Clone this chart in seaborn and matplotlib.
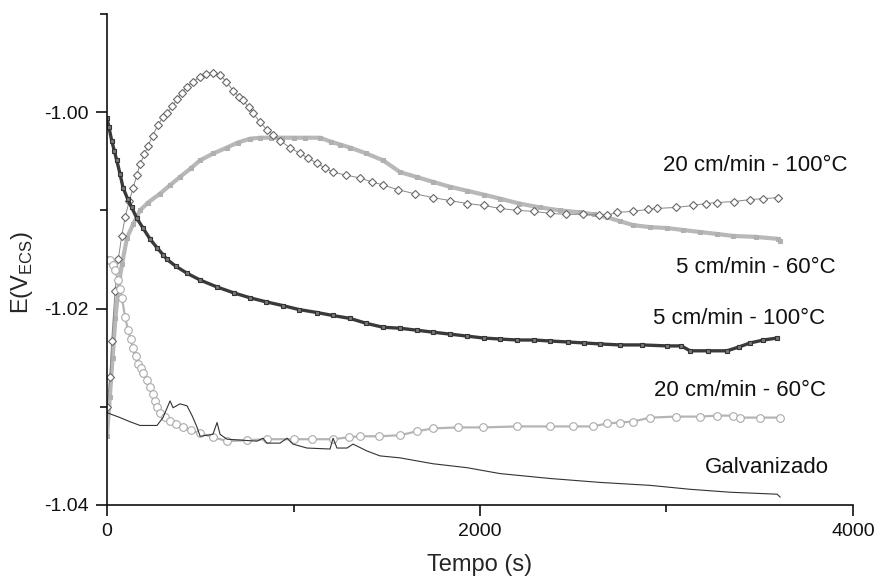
import matplotlib
matplotlib.use('Agg')
import matplotlib.pyplot as plt
import seaborn as sns
from matplotlib.ticker import MultipleLocator, FormatStrFormatter

# 20 cm/min - 100°C
t_20_100 = [0, 15, 25, 43, 60, 79, 97, 120, 140, 160, 177, 200, 220, 245, 273, 300, 321, 350, 375, 402,
            430, 460, 499, 530, 568, 606, 640, 676, 710, 729, 760, 783, 820, 858, 890, 928, 980, 1035,
            1080, 1126, 1170, 1212, 1280, 1357, 1420, 1480, 1560, 1650, 1748, 1840, 1930, 2020, 2107,
            2200, 2290, 2375, 2460, 2550, 2640, 2681, 2735, 2820, 2900, 2949, 3050, 3142, 3210, 3271,
            3360, 3448, 3520, 3598]
e_20_100 = [-1.030, -1.027, -1.0233, -1.0182, -1.0150, -1.0126, -1.0107, -1.009, -1.0077, -1.0064,
            -1.0053, -1.0043, -1.0034, -1.0024, -1.0013, -1.0005, -1.0001, -0.9994, -0.9987, -0.998,
            -0.9974, -0.9969, -0.9964, -0.9961, -0.9960, -0.9962, -0.9969, -0.9978, -0.9985, -0.9988,
            -0.9995, -1.0001, -1.0010, -1.0018, -1.0023, -1.0029, -1.0036, -1.0042, -1.0047, -1.0052,
            -1.0057, -1.0061, -1.0064, -1.0067, -1.0071, -1.0074, -1.0079, -1.0083, -1.0087, -1.0090,
            -1.0093, -1.0095, -1.0098, -1.0100, -1.0101, -1.0103, -1.0104, -1.0104, -1.0105, -1.0105,
            -1.0102, -1.0101, -1.0099, -1.0098, -1.0097, -1.0095, -1.0093, -1.0092, -1.0091, -1.0089,
            -1.0088, -1.0087]

# 5 cm/min - 60°C
t_5_60 = [0, 15, 30, 45, 60, 80, 107, 140, 177, 220, 284, 340, 391, 450, 499, 570, 643, 700, 767, 820,
          880, 940, 1000, 1060, 1142, 1200, 1250, 1303, 1390, 1480, 1571, 1660, 1748, 1840, 1930, 2020,
          2107, 2210, 2322, 2430, 2536, 2610, 2681, 2750, 2821, 2910, 3003, 3090, 3180, 3270, 3357,
          3480, 3598, 3610]
e_5_60 = [-1.033, -1.029, -1.025, -1.021, -1.018, -1.0155, -1.0128, -1.0114, -1.0100, -1.0092, -1.0083,
          -1.0074, -1.0066, -1.0057, -1.0049, -1.0042, -1.0036, -1.0031, -1.0027, -1.0026, -1.0026,
          -1.0026, -1.0026, -1.0026, -1.0026, -1.0030, -1.0033, -1.0036, -1.0042, -1.0049, -1.0061,
          -1.0066, -1.0071, -1.0076, -1.0080, -1.0084, -1.0088, -1.0093, -1.0097, -1.0100, -1.0102,
          -1.0104, -1.0107, -1.0111, -1.0115, -1.0117, -1.0118, -1.0120, -1.0122, -1.0124, -1.0126,
          -1.0127, -1.0129, -1.0131]

# 5 cm/min - 100°C
t_5_100 = [0, 10, 25, 40, 52, 70, 86, 110, 132, 160, 193, 230, 268, 300, 322, 370, 429, 500, 590, 680,
           767, 850, 944, 1030, 1126, 1210, 1303, 1390, 1480, 1571, 1660, 1748, 1839, 1930, 2020, 2107,
           2200, 2290, 2375, 2470, 2560, 2643, 2750, 2870, 3003, 3080, 3126, 3220, 3324, 3390, 3448,
           3520, 3593]
e_5_100 = [-1.0006, -1.0015, -1.0029, -1.0040, -1.0049, -1.0063, -1.0077, -1.0088, -1.0097, -1.0108,
           -1.0118, -1.0129, -1.0138, -1.0145, -1.0150, -1.0157, -1.0164, -1.0171, -1.0178, -1.0184,
           -1.0189, -1.0193, -1.0197, -1.0201, -1.0204, -1.0207, -1.0210, -1.0215, -1.0219, -1.0220,
           -1.0222, -1.0224, -1.0226, -1.0228, -1.0230, -1.0231, -1.0232, -1.0232, -1.0233, -1.0234,
           -1.0235, -1.0236, -1.0237, -1.0237, -1.0238, -1.0238, -1.0243, -1.0243, -1.0243, -1.0239,
           -1.0235, -1.0232, -1.0230]

# 20 cm/min - 60°C
t_20_60 = [0, 16, 30, 43, 59, 70, 80, 97, 113, 127, 140, 153, 166, 180, 193, 212, 231, 245, 257, 270,
           284, 310, 338, 370, 407, 450, 499, 570, 643, 750, 858, 1000, 1100, 1212, 1300, 1357, 1460,
           1571, 1660, 1748, 1880, 2016, 2200, 2375, 2500, 2606, 2681, 2750, 2821, 2912, 3050, 3180,
           3270, 3357, 3394, 3500, 3609]
e_20_60 = [-1.0151, -1.0151, -1.0156, -1.0161, -1.0171, -1.0180, -1.0189, -1.0209, -1.0222, -1.0231,
           -1.0240, -1.0248, -1.0256, -1.0261, -1.0266, -1.0273, -1.0280, -1.0287, -1.0294, -1.0300,
           -1.0306, -1.0310, -1.0314, -1.0318, -1.0321, -1.0324, -1.0327, -1.0331, -1.0335, -1.0334,
           -1.0333, -1.0333, -1.0333, -1.0333, -1.0331, -1.0330, -1.0330, -1.0329, -1.0325, -1.0322,
           -1.0321, -1.0321, -1.0320, -1.0320, -1.0320, -1.0320, -1.0317, -1.0316, -1.0315, -1.0311,
           -1.0310, -1.0310, -1.0309, -1.0309, -1.0311, -1.0311, -1.0311]

# Galvanizado
t_galv = [0, 70, 120, 177, 268, 300, 338, 354, 391, 429, 456, 483, 499, 568, 590, 606, 643, 804, 836,
          858, 928, 965, 997, 1072, 1196, 1212, 1233, 1287, 1319, 1394, 1464, 1571, 1748, 1930, 2107,
          2375, 2643, 2912, 3126, 3341, 3593, 3610]
e_galv = [-1.0306, -1.0311, -1.0315, -1.0319, -1.0319, -1.0311, -1.0294, -1.0301, -1.0297, -1.0299,
          -1.0309, -1.0321, -1.0330, -1.0328, -1.0316, -1.0328, -1.0333, -1.0335, -1.0332, -1.0337,
          -1.0337, -1.0332, -1.0338, -1.0342, -1.0343, -1.0332, -1.0342, -1.0342, -1.0338, -1.0345,
          -1.0350, -1.0352, -1.0358, -1.0362, -1.0368, -1.0373, -1.0377, -1.0380, -1.0384, -1.0387,
          -1.0389, -1.0392]

labels = ['20 cm/min - 100°C', '5 cm/min - 60°C', '5 cm/min - 100°C', '20 cm/min - 60°C', 'Galvanizado']

sns.set_style('ticks')
plt.rcParams['font.family'] = ['Liberation Sans', 'DejaVu Sans']
plt.rcParams['mathtext.fontset'] = 'custom'
plt.rcParams['mathtext.rm'] = 'Liberation Sans'
plt.rcParams['mathtext.sf'] = 'Liberation Sans'

fig = plt.figure(figsize=(8.78, 5.83), dpi=100)
ax = fig.add_axes([0.1219, 0.1338, 0.8496, 0.8422])

# thick bands mimic the densely packed markers of the original record
sns.lineplot(x=t_5_60, y=e_5_60, ax=ax, color='#b8b8b8', lw=3.0, marker='s', markersize=3.5,
             markeredgecolor='#b0b0b0', markerfacecolor='#b0b0b0', sort=False)
sns.lineplot(x=t_20_100, y=e_20_100, ax=ax, color='#888888', lw=0.7, marker='D', markersize=4,
             markeredgecolor='#666666', markerfacecolor='white', markeredgewidth=0.8, sort=False)
sns.lineplot(x=t_5_100, y=e_5_100, ax=ax, color='#3a3a3a', lw=2.4, marker='s', markersize=3.5,
             markeredgecolor='#333333', markerfacecolor='#777777', markeredgewidth=0.8, sort=False)
sns.lineplot(x=t_20_60, y=e_20_60, ax=ax, color='#b5b5b5', lw=1.6, marker='o', markersize=5.5,
             markeredgecolor='#aaaaaa', markerfacecolor='white', markeredgewidth=0.8, sort=False)
sns.lineplot(x=t_galv, y=e_galv, ax=ax, color='#333333', lw=0.8, sort=False)

ax.set_xlim(0, 4000)
ax.set_ylim(-1.04, -0.99)
ax.xaxis.set_major_locator(MultipleLocator(2000))
ax.xaxis.set_minor_locator(MultipleLocator(1000))
ax.yaxis.set_major_locator(MultipleLocator(0.02))
ax.yaxis.set_minor_locator(MultipleLocator(0.01))
ax.yaxis.set_major_formatter(FormatStrFormatter('%.2f'))
ax.tick_params(which='major', direction='out', length=8, width=1.2, labelsize=14, pad=5,
               colors='#111111')
ax.tick_params(which='minor', direction='out', length=5, width=1.2, colors='#111111')
for s in ['top', 'right']:
    ax.spines[s].set_visible(False)
for s in ['left', 'bottom']:
    ax.spines[s].set_linewidth(1.2)
    ax.spines[s].set_color('#111111')

ax.set_xlabel('Tempo (s)', fontsize=17, labelpad=10)
ax.set_ylabel(r'E(V$_{\mathrm{ECS}}$)', fontsize=17)
ax.yaxis.set_label_coords(-0.097, 0.474)

label_pos = [(2981, -1.0060), (3051, -1.0164), (2928, -1.0216), (2933, -1.0289), (3206, -1.0367)]
for txt, (x, y) in zip(labels, label_pos):
    ax.text(x, y, txt, fontsize=16, ha='left', va='baseline', color='#111111')

fig.savefig('out.png', dpi=100)
